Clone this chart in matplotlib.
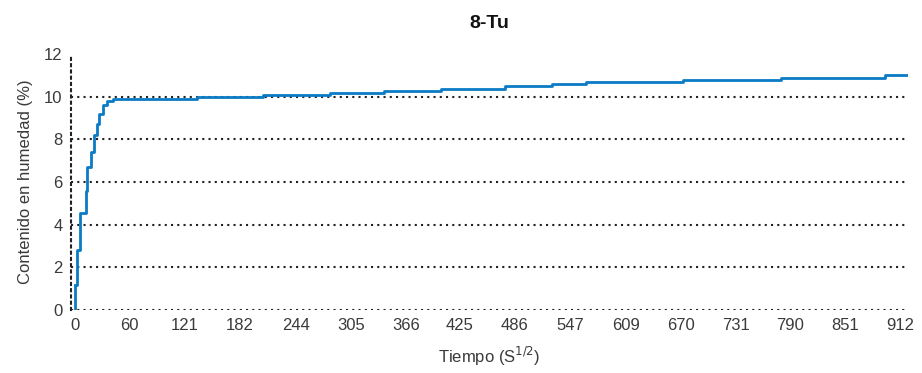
import matplotlib
matplotlib.use("Agg")
import matplotlib.pyplot as plt

plt.rcParams['font.family'] = ['Liberation Sans', 'DejaVu Sans']

# step change points: time (S^1/2) and moisture content (%)
tiempo = [0, 1.9, 5.5, 12.2, 13.6, 17.4, 21, 24, 26.9, 31.3, 35, 42.3, 134.5,
          207.5, 282, 342, 405, 475.7, 527, 565, 672.5, 780, 895, 921]
humedad = [1.17, 2.8, 4.55, 5.6, 6.7, 7.4, 8.2, 8.7, 9.2, 9.6, 9.8, 9.9, 10.0,
           10.1, 10.19, 10.28, 10.38, 10.52, 10.6, 10.67, 10.77, 10.88, 11.0, 11.0]
xticks = [0, 60, 121, 182, 244, 305, 366, 425, 486, 547, 609, 670, 731, 790, 851, 912]
yticks = [0, 2, 4, 6, 8, 10, 12]

fig = plt.figure(figsize=(9.22, 3.73), dpi=100)
ax = fig.add_axes([0.077, 0.169, 0.908, 0.686])

tc = '#3a3a3a'
for yv in yticks[:-1]:
    ax.axhline(yv, color='#222222', lw=1.5, ls=(0, (1, 2)), zorder=1)

ax.plot([0, 0], [0, humedad[0]], color='#0a7bc4', lw=2, zorder=3, solid_capstyle='butt')
ax.step(tiempo, humedad, where='post', color='#0a7bc4', lw=2, zorder=3)

ax.set_xlim(-4.4, 921)
ax.set_ylim(0, 12)
ax.set_xticks(xticks)
ax.set_yticks(yticks)
ax.tick_params(length=0, labelsize=12, colors=tc, pad=6)
for s in ['top', 'right', 'bottom']:
    ax.spines[s].set_visible(False)
ax.spines['left'].set_linestyle((0, (1, 2)))
ax.spines['left'].set_linewidth(1.5)
ax.spines['left'].set_color('#222222')
ax.spines['left'].set_bounds(0, 11.85)

ax.set_xlabel('Tiempo (S$^{1/2}$)', fontsize=12, color=tc, labelpad=8)
ax.set_ylabel('Contenido en humedad (%)', fontsize=12, color=tc, labelpad=8)
ax.set_title('8-Tu', fontsize=14, fontweight='bold', color='#111111', pad=19)

fig.savefig('out.png', dpi=100)
